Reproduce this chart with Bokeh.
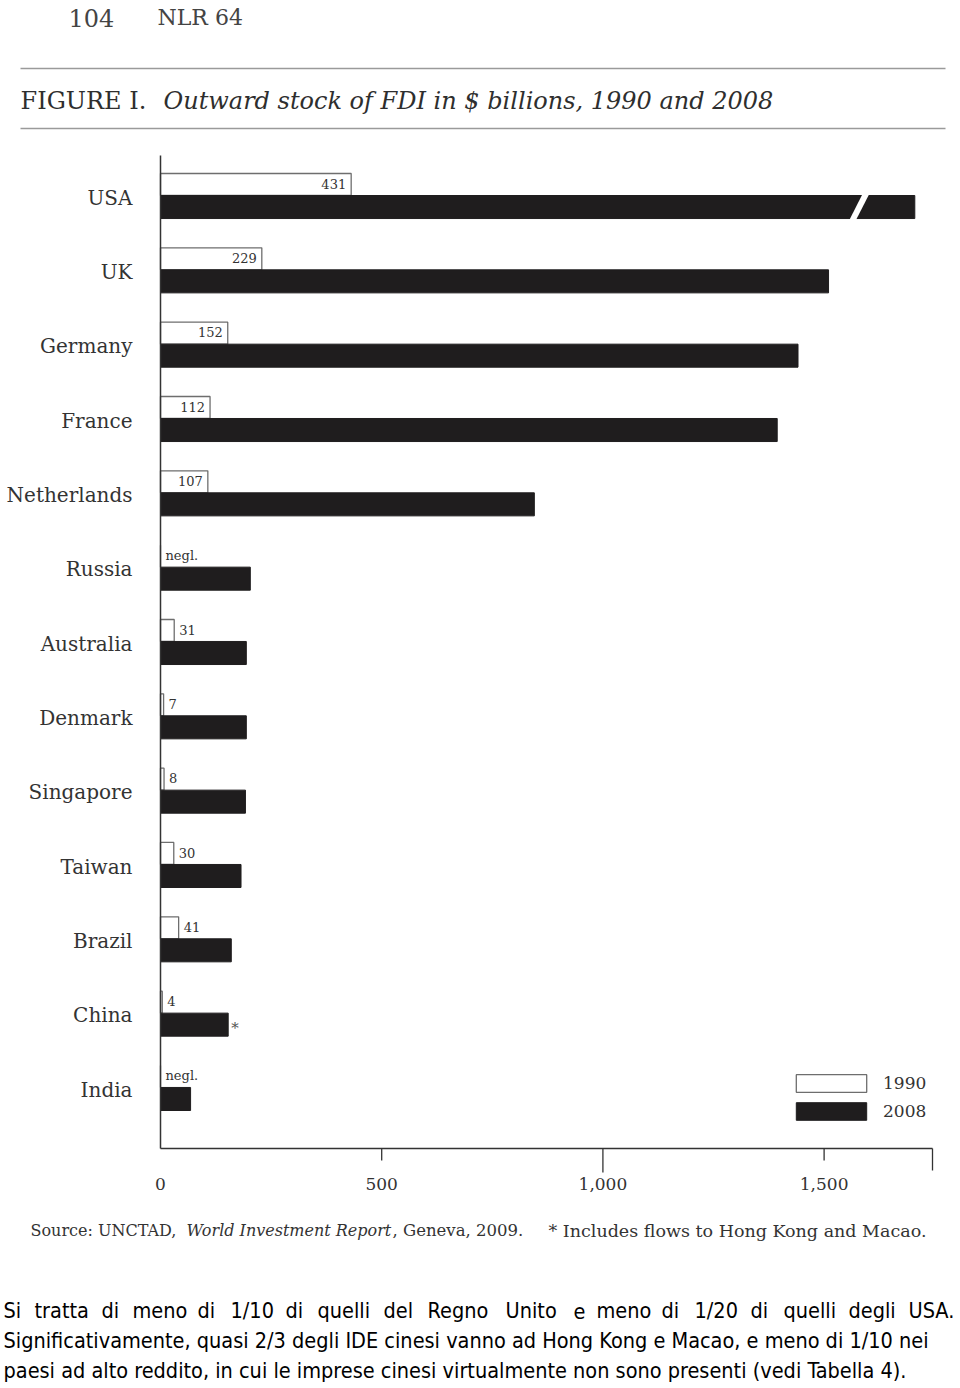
from bokeh.plotting import figure
from bokeh.models import Range1d, Legend, LegendItem, ColumnDataSource, Label, Arrow
from bokeh.transform import dodge
from bokeh.core.properties import value
from bokeh.embed import file_html
from bokeh.resources import INLINE

# ---------------- data ----------------
countries = ["USA", "UK", "Germany", "France", "Netherlands", "Russia", "Australia",
             "Denmark", "Singapore", "Taiwan", "Brazil", "China", "India"]
stock_1990 = [431, 229, 152, 112, 107, 0, 31, 7, 8, 30, 41, 4, 0]
stock_2008 = [1705, 1510, 1441, 1394, 845, 203, 194, 194, 192, 182, 160, 153, 68]
labels_1990 = ["431", "229", "152", "112", "107", "negl.", "31", "7", "8", "30", "41", "4", "negl."]
x_ticks = [0, 500, 1000, 1500]
x_tick_labels = ["0", "500", "1,000", "1,500"]
x_max = 1745
series_names = ["1990", "2008"]

header_left = "104"
header_right = "NLR 64"
title_caps = "FIGURE I."
title_italic = "Outward stock of FDI in $ billions, 1990 and 2008"
source_a = "Source: UNCTAD,"
source_b = "World Investment Report"
source_c1 = ", Geneva, 2009."
source_c2 = "* Includes flows to Hong Kong and Macao."
para_line1 = "Si tratta di meno di 1/10 di quelli del Regno Unito e meno di 1/20 di quelli degli USA."
para_line2 = "Significativamente, quasi 2/3 degli IDE cinesi vanno ad Hong Kong e Macao, e meno di 1/10 nei"
para_line3 = "paesi ad alto reddito, in cui le imprese cinesi virtualmente non sono presenti (vedi Tabella 4)."

SERIF = "DejaVu Serif"
NARROW = "Liberation Sans Narrow, DejaVu Sans Condensed, Liberation Sans"
INK = "#2e2e2e"
AX = "#333333"
W, H = 960, 1388

# ---------------- page geometry (pixels) ----------------
CH_LEFT, CH_RIGHT = 160, 932      # x = 0 and x = x_max
ROW0_PX, ROW_PX = 195, 74.33      # first category boundary and row pitch
AX_TOP_PX, AX_BOT_PX = 155, 1148  # extent of the y axis line
px_per_x = (CH_RIGHT - CH_LEFT) / x_max

x_lo = -CH_LEFT / px_per_x
x_hi = (W - CH_LEFT) / px_per_x
y_top = -ROW0_PX / ROW_PX
y_bot = (H - ROW0_PX) / ROW_PX
ax_top = (AX_TOP_PX - ROW0_PX) / ROW_PX
ax_bot = (AX_BOT_PX - ROW0_PX) / ROW_PX

p = figure(width=W, height=H, x_range=Range1d(x_lo, x_hi), y_range=Range1d(y_bot, y_top),
           toolbar_location=None, output_backend="svg", min_border=0,
           x_axis_location=None, y_axis_location=None)
p.outline_line_color = None
p.xgrid.visible = False
p.ygrid.visible = False
p.background_fill_color = "white"

# ---------------- bars ----------------
ys = list(range(len(countries)))
lab_align = ["right" if v >= 100 else "left" for v in stock_1990]
lab_off = [-5 if v >= 100 else 5 for v in stock_1990]
src = ColumnDataSource(dict(y=ys, v90=stock_1990, v08=stock_2008, lab=labels_1990,
                            al=lab_align, off=lab_off, name=countries))

r90 = p.hbar(y=dodge("y", -0.148, range=p.y_range), left=0, right="v90", height=0.296,
             fill_color="white", line_color="#6e6e6e", line_width=1.3, source=src)
r08 = p.hbar(y=dodge("y", 0.155, range=p.y_range), left=0, right="v08", height=0.31,
             fill_color="#1f1d1e", line_color="#1f1d1e", source=src)

p.text(x="v90", y=dodge("y", -0.16, range=p.y_range), text="lab", x_offset="off", text_align="al",
       text_baseline="middle", text_font=value(SERIF), text_font_size="13px", text_color="#333", source=src)

ci = countries.index("China")
p.text(x=[stock_2008[ci]], y=[ci + 0.2], text=["*"], x_offset=3, text_baseline="middle",
       text_font=value(SERIF), text_font_size="15px", text_color="#555")

ui = countries.index("USA")
p.segment(x0=[stock_2008[ui] - 143], y0=[ui + 0.36], x1=[stock_2008[ui] - 109], y1=[ui - 0.04],
          line_color="white", line_width=6)

# ---------------- axes ----------------
p.segment(x0=[0], y0=[ax_top], x1=[0], y1=[ax_bot], line_color=AX, line_width=1.5)
p.text(x=0, y=dodge("y", 0.03, range=p.y_range), text="name", x_offset=-28, text_align="right",
       text_baseline="middle", text_font=value(SERIF), text_font_size="20px", text_color="#333",
       source=src)

tick_marks = x_ticks[1:] + [x_max]
tick_len_px = [12, 24, 12, 22]
p.segment(x0=[0], y0=[ax_bot], x1=[x_max], y1=[ax_bot], line_color=AX, line_width=1.5)
p.segment(x0=tick_marks, y0=[ax_bot] * len(tick_marks), x1=tick_marks,
          y1=[ax_bot + t / ROW_PX for t in tick_len_px], line_color=AX, line_width=1.3)
p.text(x=x_ticks, y=[ax_bot] * len(x_ticks), text=x_tick_labels, y_offset=35, text_align="center",
       text_baseline="middle", text_font=value(SERIF), text_font_size="17px", text_color="#333")

# ---------------- legend ----------------
legend = Legend(items=[LegendItem(label=series_names[0], renderers=[r90]),
                       LegendItem(label=series_names[1], renderers=[r08])],
                location=(787, H - 1122), orientation="vertical", glyph_width=88, glyph_height=22,
                spacing=6, padding=0, margin=0, label_standoff=8, label_height=22,
                label_text_font=SERIF, label_text_font_size="17px", label_text_color="#333",
                border_line_color=None, background_fill_alpha=0)
p.add_layout(legend)


# ---------------- page texts (screen pixels from the page's top-left) ----------------
def page_text(X, Y, text, size, font=SERIF, style="normal", color=INK, align="left"):
    p.add_layout(Label(x=X, y=H - Y, x_units="screen", y_units="screen",
                       text=text, text_font=font, text_font_size=size, text_font_style=style,
                       text_color=color, text_align=align, text_baseline="middle"))


def page_rule(X0, X1, Y):
    p.add_layout(Arrow(x_start=X0, y_start=H - Y, x_end=X1, y_end=H - Y,
                       start_units="screen", end_units="screen", start=None, end=None,
                       line_color="#9a9a9a", line_width=1.5))


page_text(68, 17, header_left, "24px", color="#444")
page_text(157, 17, header_right, "22px", color="#444")
page_rule(20, 945, 68)
page_text(20, 100, title_caps, "24px")
page_text(163, 100, title_italic, "24px", style="italic")
page_rule(20, 945, 128)

page_text(30, 1230, source_a, "16px", color="#333")
page_text(186, 1230, source_b, "16px", style="italic", color="#333")
page_text(392, 1230, source_c1, "16.5px", color="#333")
page_text(548, 1230, source_c2, "17.5px", color="#333")

words1 = para_line1.split(" ")
word_x1 = [3, 34, 101, 132, 197, 230, 285, 317, 383, 427, 505, 573, 596, 661, 694, 750, 783, 848, 908]
for wx, wd in zip(word_x1, words1):
    page_text(wx, 1310, wd, "21.5px", font=NARROW, color="#000")
page_text(3, 1340, para_line2, "21.5px", font=NARROW, color="#000")
page_text(3, 1370, para_line3, "21.5px", font=NARROW, color="#000")

open("out.html", "w").write(file_html(p, INLINE))
